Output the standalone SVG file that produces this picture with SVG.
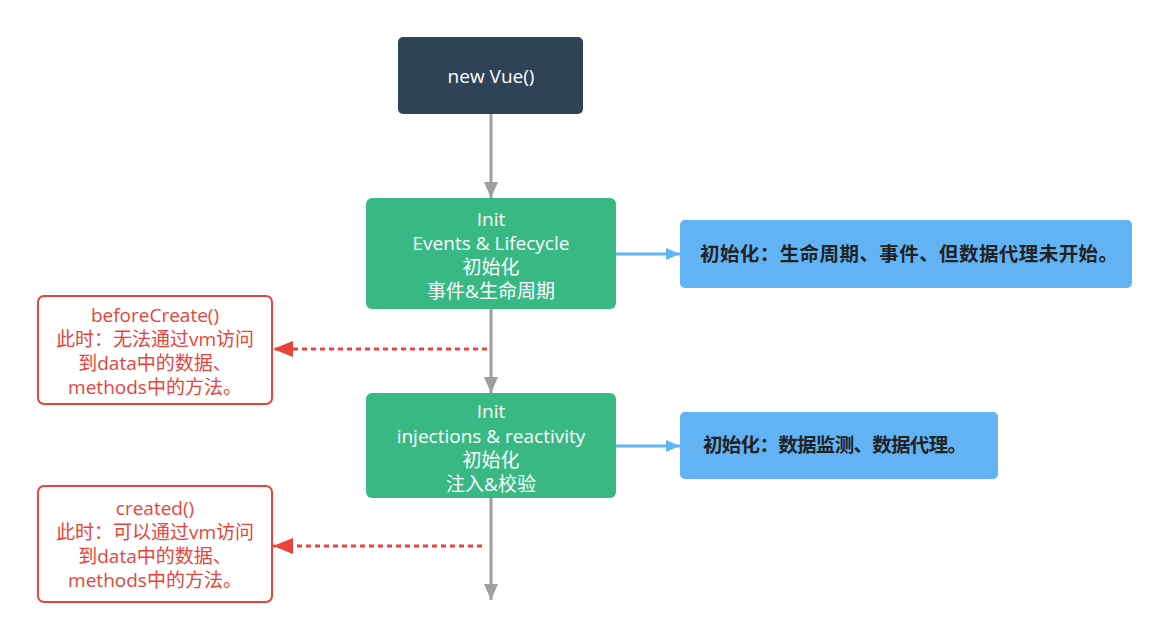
<svg xmlns="http://www.w3.org/2000/svg" width="1168" height="640" viewBox="0 0 1168 640">
<style>
.t{font-family:"Open Sans","Noto Sans CJK SC",sans-serif;font-size:19px;text-anchor:middle}
.w{fill:#ffffff}
.r{fill:#e8443a}
.b{font-family:"Noto Sans CJK SC",sans-serif;font-size:19.5px;font-weight:bold;fill:#222;text-anchor:start}
.green{fill:#38b984}
.blue{fill:#62b3f4}
.red{fill:#fff;stroke:#e8443a;stroke-width:2}
</style>
<defs>
<marker id="ag" markerWidth="16" markerHeight="14" viewBox="0 0 16 14" refX="16" refY="7" orient="auto" markerUnits="userSpaceOnUse"><path d="M0,0 L16,7 L0,14 Z" fill="#9e9e9e"/></marker>
<marker id="ab" markerWidth="14" markerHeight="12" viewBox="0 0 14 12" refX="14" refY="6" orient="auto" markerUnits="userSpaceOnUse"><path d="M0,0 L14,6 L0,12 Z" fill="#62b3f4"/></marker>
<marker id="ar" markerWidth="20" markerHeight="16" viewBox="0 0 20 16" refX="20" refY="8" orient="auto" markerUnits="userSpaceOnUse"><path d="M0,0 L20,8 L0,16 Z" fill="#e8443a"/></marker>
</defs>
<rect width="1168" height="640" fill="#fff"/>
<g id="connectors">
<path d="M491,114 V198" stroke="#9e9e9e" stroke-width="3" fill="none" marker-end="url(#ag)"/>
<path d="M491,309 V393" stroke="#9e9e9e" stroke-width="3" fill="none" marker-end="url(#ag)"/>
<path d="M491,498 V600" stroke="#9e9e9e" stroke-width="3" fill="none" marker-end="url(#ag)"/>
<path d="M616,254 H680" stroke="#62b3f4" stroke-width="3" fill="none" marker-end="url(#ab)"/>
<path d="M616,446 H680" stroke="#62b3f4" stroke-width="3" fill="none" marker-end="url(#ab)"/>
<path d="M487,349 H273" stroke="#e8443a" stroke-width="3" stroke-dasharray="5,4" fill="none" marker-end="url(#ar)"/>
<path d="M482,546 H273" stroke="#e8443a" stroke-width="3" stroke-dasharray="5,4" fill="none" marker-end="url(#ar)"/>
</g>
<g id="node-newvue">
<rect x="398" y="37" width="185" height="77" rx="5" fill="#2f4357"/>
<text class="t w" x="491" y="83">new Vue()</text>
</g>
<g id="node-init-events">
<rect class="green" x="366" y="198" width="250" height="111" rx="6"/>
<text class="t w" x="491" y="226">Init</text>
<text class="t w" x="491" y="250">Events &amp; Lifecycle</text>
<text class="t w" x="491" y="274">初始化</text>
<text class="t w" x="491" y="298">事件&amp;生命周期</text>
</g>
<g id="node-init-injections">
<rect class="green" x="366" y="393" width="250" height="105" rx="6"/>
<text class="t w" x="491" y="418">Init</text>
<text class="t w" x="491" y="443">injections &amp; reactivity</text>
<text class="t w" x="491" y="467">初始化</text>
<text class="t w" x="491" y="491">注入&amp;校验</text>
</g>
<g id="node-note1">
<rect class="blue" x="680" y="220" width="452" height="68" rx="5"/>
<text class="b" x="700" y="261" textLength="418">初始化：生命周期、事件、但数据代理未开始。</text>
</g>
<g id="node-note2">
<rect class="blue" x="680" y="412" width="318" height="67" rx="5"/>
<text class="b" x="703" y="452" textLength="264">初始化：数据监测、数据代理。</text>
</g>
<g id="node-beforeCreate">
<rect class="red" x="38" y="296" width="234" height="108" rx="6"/>
<text class="t r" x="155" y="322">beforeCreate()</text>
<text class="t r" x="155" y="346">此时：无法通过vm访问</text>
<text class="t r" x="155" y="370">到data中的数据、</text>
<text class="t r" x="155" y="394">methods中的方法。</text>
</g>
<g id="node-created">
<rect class="red" x="38" y="486" width="234" height="116" rx="6"/>
<text class="t r" x="155" y="515">created()</text>
<text class="t r" x="155" y="539">此时：可以通过vm访问</text>
<text class="t r" x="155" y="563">到data中的数据、</text>
<text class="t r" x="155" y="587">methods中的方法。</text>
</g>
</svg>
